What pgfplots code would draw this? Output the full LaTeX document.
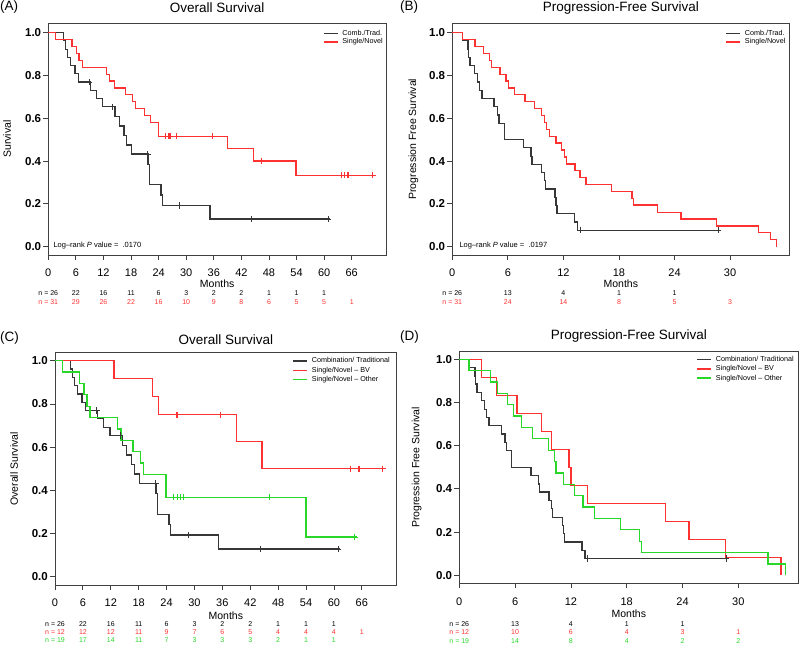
\documentclass[border=0pt]{standalone}
\usepackage{fontspec}
\setmainfont{Liberation Sans}
\usepackage{pgfplots}
\pgfplotsset{compat=1.18}
\definecolor{kmblack}{RGB}{55,55,55}
\definecolor{kmred}{RGB}{255,50,50}
\definecolor{kmgreen}{RGB}{40,215,40}
\newcommand\riskfont{\fontsize{7}{8}\selectfont}
\newcommand\rk[3]{\node[font=\riskfont,text=#3,inner sep=0pt,anchor=center] at (axis cs:#1) {#2};}
\pgfplotsset{
 every axis title shift=0pt,
 km/.style={
  scale only axis, clip=false, xmin=0, anchor=south west,
  ytick={0,0.2,0.4,0.6,0.8,1}, yticklabels={0.0,0.2,0.4,0.6,0.8,1.0},
  tick align=outside, major tick length=5pt,
  xtick pos=bottom, ytick pos=left,
  axis line style={draw=black!75, line width=0.8pt},
  tick style={draw=black!75, line width=0.8pt},
  yticklabel style={font=\fontsize{11.5}{13}\selectfont\bfseries, inner sep=2pt},
  xticklabel style={font=\fontsize{11}{13}\selectfont, yshift=-5.5pt},
  label style={font=\fontsize{10.5}{12}\selectfont},
  title style={font=\fontsize{13.5}{16}\selectfont, anchor=center},
  legend style={draw=none, fill=none, font=\fontsize{7.2}{8.7}\selectfont, anchor=north east, inner sep=0pt, column sep=3pt, nodes={inner sep=1pt, text height=5.2pt, text depth=1.5pt}},
  legend cell align=left,
  legend image code/.code={\draw[##1, line width=1.3pt] (0pt,0pt) -- (14pt,0pt);},
  /pgf/number format/assume math mode=true,
 },
 kmline/.style={const plot, line width=1.3pt, mark=none},
 kmcens/.style={only marks, mark=+, mark size=3.2pt, line width=0.8pt, forget plot},
}
\begin{document}
\begin{tikzpicture}
\path[use as bounding box] (0pt,0pt) rectangle (800pt,645pt);
\node[anchor=west, inner sep=0pt, font=\fontsize{13.5}{16}\selectfont] at (0pt,637.7pt) {(A)};
\node[anchor=west, inner sep=0pt, font=\fontsize{13.5}{16}\selectfont] at (400pt,637.7pt) {(B)};
\node[anchor=west, inner sep=0pt, font=\fontsize{13.5}{16}\selectfont] at (0pt,307pt) {(C)};
\node[anchor=west, inner sep=0pt, font=\fontsize{13.5}{16}\selectfont] at (400pt,308pt) {(D)};

% ---------------- Panel A
\begin{axis}[km, at={(48.3pt,390pt)}, width=337.7pt, height=231.7pt,
  xmax=73.46, ymin=-0.039, ymax=1.044, xtick={0,6,...,66},
  title={Overall Survival}, title style={at={(0.5,1.066)}},
  xlabel={Months}, xlabel style={at={(axis description cs:0.5,-0.126)}, anchor=center},
  ylabel={Survival}, ylabel style={at={(axis description cs:-0.1223,0.5)}, anchor=center},
  legend style={at={(0.994,0.976)}}]
\addplot[kmline, draw=kmblack] coordinates {(0,1)(3.3,0.962)(3.8,0.923)(4.15,0.885)(4.9,0.846)(5.8,0.808)(6.6,0.769)(9.15,0.731)(10.5,0.692)(11.8,0.654)(14.5,0.607)(15.45,0.564)(16.46,0.519)(17.04,0.475)(18.13,0.433)(21.7,0.385)(22.0,0.289)(24.5,0.241)(24.9,0.193)(35.2,0.129)(61.3,0.129)};
\addlegendentry{Comb./Trad.}
\addplot[kmline, draw=kmred] coordinates {(0,1)(1.5,0.968)(5.15,0.935)(6.2,0.903)(6.7,0.871)(7.5,0.839)(12.6,0.806)(13.3,0.774)(14.35,0.742)(16.8,0.710)(18.3,0.677)(19.0,0.645)(21.0,0.613)(22.2,0.581)(23.9,0.516)(39.0,0.459)(44.6,0.401)(53.9,0.334)(70.7,0.334)};
\addlegendentry{Single/Novel}
\addplot[kmcens, draw=kmblack] coordinates {(8.9,0.769)(14.0,0.654)(21.6,0.433)(28.6,0.193)(44.2,0.129)(60.9,0.129)};
\addplot[kmcens, draw=kmred] coordinates {(25.4,0.516)(26.1,0.516)(26.3,0.516)(26.6,0.516)(27.8,0.516)(35.6,0.516)(46.3,0.401)(63.7,0.334)(64.5,0.334)(65.1,0.334)(65.3,0.334)(70.6,0.334)};
\node[anchor=west, inner sep=0pt, font=\fontsize{7.5}{9}\selectfont] at (axis cs:1.1,0.005) {Log\textendash rank \textit{P} value =\ \ .0170};
\rk{0,-0.218}{n = 26}{black}\rk{6,-0.218}{22}{black}\rk{12,-0.218}{16}{black}\rk{18,-0.218}{11}{black}\rk{24,-0.218}{6}{black}\rk{30,-0.218}{3}{black}\rk{36,-0.218}{2}{black}\rk{42,-0.218}{2}{black}\rk{48,-0.218}{1}{black}\rk{54,-0.218}{1}{black}\rk{60,-0.218}{1}{black}
\rk{0,-0.257}{n = 31}{kmred}\rk{6,-0.257}{29}{kmred}\rk{12,-0.257}{26}{kmred}\rk{18,-0.257}{22}{kmred}\rk{24,-0.257}{16}{kmred}\rk{30,-0.257}{10}{kmred}\rk{36,-0.257}{9}{kmred}\rk{42,-0.257}{8}{kmred}\rk{48,-0.257}{6}{kmred}\rk{54,-0.257}{5}{kmred}\rk{60,-0.257}{5}{kmred}\rk{66,-0.257}{1}{kmred}
\end{axis}

% ---------------- Panel B
\begin{axis}[km, at={(452.3pt,390pt)}, width=337pt, height=231.7pt,
  xmax=36.4, ymin=-0.039, ymax=1.044, xtick={0,6,...,30},
  title={Progression-Free Survival}, title style={at={(0.5,1.066)}},
  xlabel={Months}, xlabel style={at={(axis description cs:0.5,-0.126)}, anchor=center},
  ylabel={Progression Free Survival}, ylabel style={at={(axis description cs:-0.1157,0.5)}, anchor=center},
  legend style={at={(0.992,0.976)}}]
\addplot[kmline, draw=kmblack] coordinates {(0,1)(1.1,0.962)(1.7,0.923)(1.75,0.885)(1.9,0.846)(2.4,0.808)(2.7,0.769)(2.9,0.731)(3.2,0.692)(4.5,0.654)(4.9,0.615)(5.05,0.577)(5.6,0.5)(7.7,0.462)(8.5,0.423)(8.6,0.385)(9.65,0.346)(9.95,0.308)(10.05,0.269)(11.1,0.231)(11.2,0.192)(11.3,0.154)(13.2,0.115)(13.5,0.077)(28.9,0.077)};
\addlegendentry{Comb./Trad.}
\addplot[kmline, draw=kmred] coordinates {(0,1)(1.1,0.968)(2.45,0.935)(3.35,0.903)(4.0,0.871)(4.25,0.839)(5.15,0.806)(5.8,0.774)(6.1,0.742)(6.7,0.710)(7.85,0.677)(8.9,0.645)(9.65,0.613)(9.95,0.581)(10.15,0.548)(10.5,0.516)(11.2,0.484)(11.8,0.452)(12.1,0.419)(12.3,0.387)(13.25,0.355)(13.8,0.323)(14.45,0.290)(17.2,0.258)(19.4,0.226)(19.55,0.194)(22.2,0.161)(24.7,0.129)(28.5,0.097)(33.1,0.065)(34.4,0.032)(35.0,0)};
\addlegendentry{Single/Novel}
\addplot[kmcens, draw=kmblack] coordinates {(13.8,0.077)(28.7,0.077)};
\node[anchor=west, inner sep=0pt, font=\fontsize{7.5}{9}\selectfont] at (axis cs:0.76,0.003) {Log\textendash rank \textit{P} value =\ \ .0197};
\rk{0,-0.218}{n = 26}{black}\rk{6,-0.218}{13}{black}\rk{12,-0.218}{4}{black}\rk{18,-0.218}{1}{black}\rk{24,-0.218}{1}{black}
\rk{0,-0.257}{n = 31}{kmred}\rk{6,-0.257}{24}{kmred}\rk{12,-0.257}{14}{kmred}\rk{18,-0.257}{8}{kmred}\rk{24,-0.257}{5}{kmred}\rk{30,-0.257}{3}{kmred}
\end{axis}

% ---------------- Panel C
\begin{axis}[km, at={(55pt,60pt)}, width=341.7pt, height=232.3pt,
  xmax=73.5, ymin=-0.038, ymax=1.037, xtick={0,6,...,66},
  title={Overall Survival}, title style={at={(0.5,1.058)}},
  xlabel={Months}, xlabel style={at={(axis description cs:0.5,-0.131)}, anchor=center},
  ylabel={Overall Survival}, ylabel style={at={(axis description cs:-0.12,0.5)}, anchor=center},
  legend style={at={(0.983,0.985)}, nodes={text height=5.5pt, text depth=1.7pt}}]
\addplot[kmline, draw=kmblack] coordinates {(0,1)(3.3,0.962)(3.8,0.923)(4.15,0.885)(4.9,0.846)(5.8,0.808)(6.6,0.769)(9.15,0.731)(10.5,0.692)(11.8,0.654)(14.5,0.607)(15.45,0.564)(16.46,0.519)(17.04,0.475)(18.13,0.433)(21.7,0.385)(22.0,0.289)(24.5,0.241)(24.9,0.193)(35.2,0.129)(61.3,0.129)};
\addlegendentry{Combination/ Traditional}
\addplot[kmline, draw=kmred] coordinates {(0,1)(12.7,0.917)(21.0,0.833)(22.3,0.75)(39.0,0.625)(44.5,0.5)(70.6,0.5)};
\addlegendentry{Single/Novel \textendash\ BV}
\addplot[kmline, draw=kmgreen] coordinates {(0,1)(1.65,0.947)(5.2,0.895)(6.25,0.842)(6.9,0.789)(7.5,0.737)(13.45,0.684)(14.2,0.632)(16.8,0.579)(18.4,0.526)(19.1,0.474)(23.9,0.368)(54.0,0.184)(64.9,0.184)};
\addlegendentry{Single/Novel \textendash\ Other}
\addplot[kmcens, draw=kmblack] coordinates {(8.9,0.769)(14.0,0.654)(21.6,0.433)(28.6,0.193)(44.2,0.129)(60.9,0.129)};
\addplot[kmcens, draw=kmred] coordinates {(26.1,0.75)(26.3,0.75)(35.65,0.75)(63.5,0.5)(65.2,0.5)(65.4,0.5)(70.5,0.5)};
\addplot[kmcens, draw=kmgreen] coordinates {(25.5,0.368)(26.3,0.368)(26.9,0.368)(27.6,0.368)(46.1,0.368)(64.4,0.184)};
\rk{0,-0.219}{n = 26}{black}\rk{6,-0.219}{22}{black}\rk{12,-0.219}{16}{black}\rk{18,-0.219}{11}{black}\rk{24,-0.219}{6}{black}\rk{30,-0.219}{3}{black}\rk{36,-0.219}{2}{black}\rk{42,-0.219}{2}{black}\rk{48,-0.219}{1}{black}\rk{54,-0.219}{1}{black}\rk{60,-0.219}{1}{black}
\rk{0,-0.255}{n = 12}{kmred}\rk{6,-0.255}{12}{kmred}\rk{12,-0.255}{12}{kmred}\rk{18,-0.255}{11}{kmred}\rk{24,-0.255}{9}{kmred}\rk{30,-0.255}{7}{kmred}\rk{36,-0.255}{6}{kmred}\rk{42,-0.255}{5}{kmred}\rk{48,-0.255}{4}{kmred}\rk{54,-0.255}{4}{kmred}\rk{60,-0.255}{4}{kmred}\rk{66,-0.255}{1}{kmred}
\rk{0,-0.293}{n = 19}{kmgreen}\rk{6,-0.293}{17}{kmgreen}\rk{12,-0.293}{14}{kmgreen}\rk{18,-0.293}{11}{kmgreen}\rk{24,-0.293}{7}{kmgreen}\rk{30,-0.293}{3}{kmgreen}\rk{36,-0.293}{3}{kmgreen}\rk{42,-0.293}{3}{kmgreen}\rk{48,-0.293}{2}{kmgreen}\rk{54,-0.293}{1}{kmgreen}\rk{60,-0.293}{1}{kmgreen}
\end{axis}

% ---------------- Panel D
\begin{axis}[km, at={(459.3pt,61.7pt)}, width=339pt, height=231.6pt,
  xmax=36.45, ymin=-0.037, ymax=1.035, xtick={0,6,...,30},
  title={Progression-Free Survival}, title style={at={(0.5,1.068)}},
  xlabel={Months}, xlabel style={at={(axis description cs:0.5,-0.1315)}, anchor=center},
  ylabel={Progression Free Survival}, ylabel style={at={(axis description cs:-0.1257,0.5)}, anchor=center},
  legend style={at={(0.99,0.986)}, nodes={text height=5.5pt, text depth=1.7pt}}]
\addplot[kmline, draw=kmblack] coordinates {(0,1)(1.1,0.962)(1.7,0.923)(1.75,0.885)(1.9,0.846)(2.4,0.808)(2.7,0.769)(2.9,0.731)(3.2,0.692)(4.5,0.654)(4.9,0.615)(5.05,0.577)(5.6,0.5)(7.7,0.462)(8.5,0.423)(8.6,0.385)(9.65,0.346)(9.95,0.308)(10.05,0.269)(11.1,0.231)(11.2,0.192)(11.3,0.154)(13.2,0.115)(13.5,0.077)(28.9,0.077)};
\addlegendentry{Combination/ Traditional}
\addplot[kmline, draw=kmred] coordinates {(0,1)(2.4,0.917)(4.0,0.833)(6.2,0.75)(8.85,0.667)(9.9,0.583)(11.8,0.5)(12.0,0.417)(13.75,0.333)(22.2,0.25)(24.7,0.167)(28.6,0.083)(34.6,0)};
\addlegendentry{Single/Novel \textendash\ BV}
\addplot[kmline, draw=kmgreen] coordinates {(0,1)(1.04,0.947)(3.37,0.895)(4.1,0.842)(5.2,0.789)(5.8,0.737)(6.7,0.684)(7.85,0.632)(9.6,0.579)(10.2,0.526)(10.4,0.474)(11.2,0.421)(12.4,0.368)(13.3,0.316)(14.5,0.263)(17.3,0.211)(19.4,0.158)(19.6,0.105)(33.2,0.053)(35.1,0)};
\addlegendentry{Single/Novel \textendash\ Other}
\addplot[kmcens, draw=kmblack] coordinates {(13.8,0.077)(28.7,0.077)};
\rk{0,-0.225}{n = 26}{black}\rk{6,-0.225}{13}{black}\rk{12,-0.225}{4}{black}\rk{18,-0.225}{1}{black}\rk{24,-0.225}{1}{black}
\rk{0,-0.264}{n = 12}{kmred}\rk{6,-0.264}{10}{kmred}\rk{12,-0.264}{6}{kmred}\rk{18,-0.264}{4}{kmred}\rk{24,-0.264}{3}{kmred}\rk{30,-0.264}{1}{kmred}
\rk{0,-0.303}{n = 19}{kmgreen}\rk{6,-0.303}{14}{kmgreen}\rk{12,-0.303}{8}{kmgreen}\rk{18,-0.303}{4}{kmgreen}\rk{24,-0.303}{2}{kmgreen}\rk{30,-0.303}{2}{kmgreen}
\end{axis}
\end{tikzpicture}
\end{document}
